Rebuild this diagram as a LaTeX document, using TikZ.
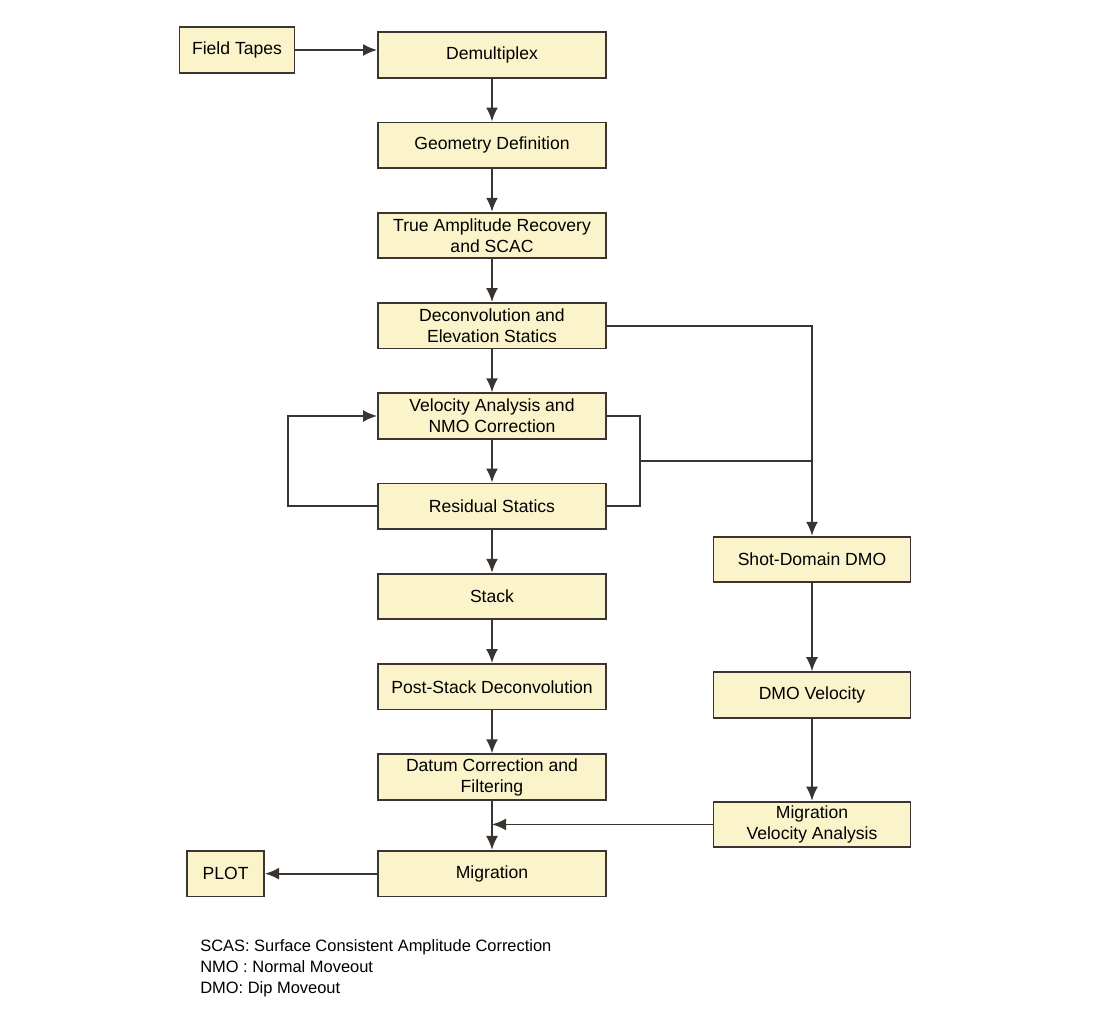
\documentclass[tikz,border=0pt]{standalone}
\usepackage{fontspec}
\setmainfont{Liberation Sans}
\usetikzlibrary{arrows.meta,positioning}
\definecolor{boxfill}{HTML}{FBF4CB}
\definecolor{inkline}{HTML}{3A3530}

\begin{document}
\begin{tikzpicture}[
  x=0.025cm, y=-0.025cm,
  node distance=10.7mm and 20mm,
  box/.style={draw=inkline,line width=1.3pt,fill=boxfill,minimum width=#1,
              minimum height=11.4mm,font=\fontsize{12.5}{15}\selectfont,
              align=center,inner sep=1pt},
  box/.default=57mm,
  arr/.style={-{Latex[length=3.5mm,width=3mm]},line width=1.3pt,draw=inkline},
  lin/.style={line width=1.3pt,draw=inkline}
]
\useasboundingbox (0,0) rectangle (1100,1020);

% main column
\node[box]                   (demux)   at (492,55) {Demultiplex};
\node[box,below=of demux]    (geom)    {Geometry Definition};
\node[box,below=of geom]     (tar)     {True Amplitude Recovery\\and SCAC};
\node[box,below=of tar]      (decon)   {Deconvolution and\\Elevation Statics};
\node[box,below=of decon]    (velan)   {Velocity Analysis and\\NMO Correction};
\node[box,below=of velan]    (resid)   {Residual Statics};
\node[box,below=of resid]    (stack)   {Stack};
\node[box,below=of stack]    (poststk) {Post-Stack Deconvolution};
\node[box,below=of poststk]  (datum)   {Datum Correction and\\Filtering};
\node[box,below=12.3mm of datum] (mig) {Migration};

\node[box=28.75mm] (ftapes) at (237,50) {Field Tapes};
\node[box=19.25mm,left=28mm of mig] (plot) {PLOT};

% DMO branch
\node[box=49.25mm]                      (shotdmo) at (812,559.5) {Shot-Domain DMO};
\node[box=49.25mm,below=22mm of shotdmo]   (dmovel)  {DMO Velocity};
\node[box=49.25mm,below=20.5mm of dmovel]  (migvel)  {Migration\\Velocity Analysis};

\draw[arr] (ftapes) -- (ftapes -| demux.west);
\draw[arr] (demux)   -- (geom);
\draw[arr] (geom)    -- (tar);
\draw[arr] (tar)     -- (decon);
\draw[arr] (decon)   -- (velan);
\draw[arr] (velan)   -- (resid);
\draw[arr] (resid)   -- (stack);
\draw[arr] (stack)   -- (poststk);
\draw[arr] (poststk) -- (datum);
\draw[arr] (datum)   -- (mig);
\draw[arr] (mig)     -- (plot);

% statics loop and feed to DMO
\coordinate (loopL) at (288,0);
\draw[arr] (resid.west) -- (resid.west -| loopL) |- (velan.west);
\coordinate (brk) at (640,461);
\draw[lin] (velan.east) -| (brk) |- (resid.east);
\draw[lin] (brk) -- (brk -| shotdmo.north);
\draw[arr] (decon.east) -| (shotdmo.north);

\draw[arr] (shotdmo) -- (dmovel);
\draw[arr] (dmovel)  -- (migvel);
\draw[arr] (migvel.west) -- (migvel.west -| mig.north);

\node[font=\fontsize{11.7}{15}\selectfont,align=left,anchor=north west,inner sep=0pt]
     (legend) at (200,939)
     {SCAS: Surface Consistent Amplitude Correction\\NMO : Normal Moveout\\DMO: Dip Moveout};
\end{tikzpicture}
\end{document}
